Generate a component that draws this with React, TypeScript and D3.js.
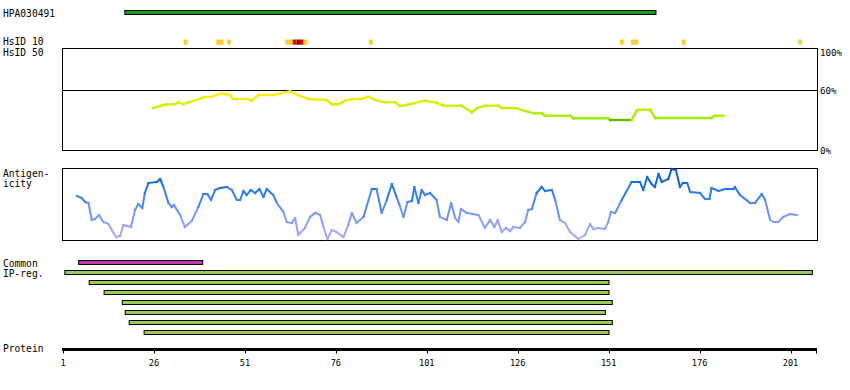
import React from "react";
import * as d3 from "d3";

const PROTEIN_LENGTH = 208;
const TICKS = [1, 26, 51, 76, 101, 126, 151, 176, 201];

const HPA_ANTIGEN = [18, 164];

// HsID 10 marks: [residue, level]
const HSID10 = [
  [34, 1], [43, 1], [44, 1], [46, 1], [62, 1], [63, 1], [64, 2], [65, 3], [66, 2], [67, 1],
  [85, 1], [154, 1], [157, 1], [158, 1], [171, 1], [203, 1],
];

// HsID 50 identity (%): residue, value
const ID_RES = [25.8, 27.7, 29.5, 31.8, 32.7, 34.1, 35.5, 37.8, 39.6, 41.9, 44.6, 46.9, 47.8, 51.9, 52.9, 54.7, 59.3, 60.7, 63.4, 65.7, 68.4, 73.5, 74.9, 76.7, 78.5, 80.8, 83.1, 84.9, 86.8, 89.5, 92.3, 93.6, 95.5, 97.3, 100.5, 103.7, 105.6, 110.6, 113.4, 114.7, 117.0, 120.7, 121.6, 125.7, 128.0, 130.3, 132.6, 133.5, 140.4, 141.3, 150.9, 151.4, 157.3, 158.7, 159.6, 162.4, 163.8, 179.3, 180.2, 182.5];
const ID_VAL = [42, 44, 45.7, 45.7, 47.7, 45.7, 47.7, 50, 52.7, 53.3, 56.7, 55, 51, 51, 49.3, 55, 55, 56.7, 58.7, 55, 51, 50, 45.7, 45.7, 49.3, 51, 51, 53.3, 50, 47.7, 47.7, 44, 45, 46.7, 49.3, 47.3, 44.3, 44.3, 37.7, 41.7, 44.3, 44.3, 42, 41.7, 39, 36.7, 36.7, 34.3, 34.3, 31.7, 31.7, 30, 30, 39.3, 40.3, 40.3, 32, 32, 34.3, 34.3];

// Antigenicity: residue, score
const AG_RES = [4.8, 6.1, 7.1, 8.0, 8.9, 9.8, 10.9, 12.1, 13.5, 14.4, 15.6, 16.7, 17.6, 19.7, 20.8, 21.7, 22.8, 23.5, 24.5, 26.8, 27.7, 28.6, 30.0, 30.9, 31.5, 33.2, 34.5, 36.4, 38.2, 39.6, 40.7, 41.7, 42.8, 44.2, 46.0, 47.4, 48.8, 49.7, 50.6, 51.5, 52.6, 53.8, 55.0, 56.1, 57.0, 58.8, 59.8, 61.6, 62.5, 63.9, 64.8, 65.7, 67.5, 68.9, 70.3, 71.7, 72.6, 73.7, 74.9, 76.2, 78.1, 79.4, 80.4, 81.7, 83.6, 85.9, 87.2, 88.6, 90.0, 91.4, 92.7, 93.6, 94.6, 95.7, 96.9, 97.6, 98.7, 99.6, 100.5, 101.9, 103.7, 104.6, 106.5, 107.7, 108.8, 109.7, 110.4, 112.0, 115.2, 117.0, 118.4, 119.6, 120.5, 121.6, 122.8, 123.9, 124.8, 126.6, 128.0, 128.9, 129.9, 131.2, 132.6, 133.5, 135.4, 136.3, 137.6, 139.0, 140.4, 142.7, 144.5, 145.9, 146.8, 148.2, 150.0, 150.9, 151.6, 152.8, 154.6, 157.3, 159.6, 160.5, 161.6, 162.8, 163.7, 164.7, 165.6, 167.4, 168.3, 169.5, 170.6, 171.4, 172.6, 173.4, 176.1, 177.5, 178.7, 179.3, 181.2, 183.0, 185.3, 185.7, 187.1, 189.9, 191.2, 193.1, 194.0, 195.4, 196.3, 197.6, 199.0, 200.9, 202.7];
const AG_VAL = [44, 42, 38, 37, 20, 21, 25, 18, 16, 10, 3, 4, 15, 13, 30, 36, 32, 47, 57, 58, 61, 53, 37, 33, 35, 25, 13, 19, 33, 46, 46, 40, 50, 52, 53, 50, 40, 40, 49, 45, 50, 47, 51, 43, 51, 45, 37, 28, 18, 17, 22, 5, 12, 23, 27, 25, 13, 1, 10, 8, 3, 15, 27, 17, 23, 51, 51, 27, 40, 56, 43, 34, 23, 38, 39, 53, 37, 50, 45, 47, 40, 23, 20, 37, 22, 18, 31, 27, 25, 12, 20, 13, 20, 8, 12, 9, 13, 12, 18, 30, 31, 47, 53, 49, 50, 40, 20, 17, 8, 1, 5, 16, 11, 12, 11, 18, 28, 27, 40, 58, 58, 50, 63, 56, 53, 66, 58, 61, 71, 70, 53, 57, 57, 48, 47, 41, 41, 52, 49, 51, 51, 53, 45, 37, 37, 46, 40, 20, 18, 18, 23, 26, 25];

const COMMON = [[5.3, 39.4]];
const IPREG_START = [1.5, 8.2, 12.3, 17.3, 18.1, 19.2, 23.3];
const IPREG_END = [207, 151.1, 151.1, 152, 150.1, 152, 151.1];

const FONT = "'DejaVu Sans Mono', monospace";

export default function App() {
  const W = 850, H = 390;
  const x = d3.scaleLinear().domain([1, PROTEIN_LENGTH]).range([63, 816]);
  const yId = d3.scaleLinear().domain([0, 100]).range([150, 50]);
  const yAg = d3.scaleLinear().domain([0, 72]).range([240, 168]);

  const idColor = (v: number) =>
    v <= 30.5 ? "#66bb00" : d3.scaleLinear<string>().domain([31, 44, 56]).range(["#99ee00", "#ccf000", "#ffee11"]).clamp(true)(v);
  const agColor = d3.scaleLinear<string>().domain([0, 25, 50, 70]).range(["#bbaaff", "#7799ff", "#2277ee", "#0052c4"]).clamp(true);
  const levelColor = ["", "#ffcc22", "#cc1100", "#990000"];

  const idSegs = ID_RES.slice(1).map((r, i) => ({
    x1: x(ID_RES[i]), y1: yId(ID_VAL[i]), x2: x(r), y2: yId(ID_VAL[i + 1]),
    c: idColor((ID_VAL[i] + ID_VAL[i + 1]) / 2),
  }));
  const agSegs = AG_RES.slice(1).map((r, i) => ({
    x1: x(AG_RES[i]), y1: yAg(AG_VAL[i]), x2: x(r), y2: yAg(AG_VAL[i + 1]),
    c: agColor((AG_VAL[i] + AG_VAL[i + 1]) / 2),
  }));

  const label = (t: string, yy: number, xx = 3, size = 9.6) => (
    <text x={xx} y={yy} fontFamily={FONT} fontSize={size} fill="#000">{t}</text>
  );

  return (
    <svg width={W} height={H} style={{ position: "absolute", left: 0, top: 0, background: "#fff" }}>
      <rect width={W} height={H} fill="#fff" />
      {label("HPA030491", 16.5)}
      <rect x={x(HPA_ANTIGEN[0])} y={10.5} width={x(HPA_ANTIGEN[1]) - x(HPA_ANTIGEN[0])} height={4} fill="#1c9c1c" stroke="#000" strokeWidth={1} />

      {label("HsID 10", 45)}
      {label("HsID 50", 56)}
      {HSID10.map(([r, l], i) => (
        <rect key={i} x={x(r) + 0.5} y={39.5} width={x(r + 1) - x(r)} height={5.2} fill={levelColor[l]} />
      ))}

      <rect x={62.5} y={48.5} width={755} height={102} fill="none" stroke="#000" strokeWidth={1} />
      <line x1={62.5} x2={817.5} y1={90.5} y2={90.5} stroke="#000" strokeWidth={1} />
      {label("100%", 55.5, 820, 9.2)}
      {label("60%", 94, 820, 9.2)}
      {label("0%", 154, 820, 9.2)}
      {idSegs.map((s, i) => (
        <line key={i} x1={s.x1} y1={s.y1} x2={s.x2} y2={s.y2} stroke={s.c} strokeWidth={2.4} strokeLinecap="square" />
      ))}

      {label("Antigen-", 176.5)}
      {label("icity", 187)}
      <rect x={62.5} y={168.5} width={755} height={72} fill="none" stroke="#000" strokeWidth={1} />
      {agSegs.map((s, i) => (
        <line key={i} x1={s.x1} y1={s.y1} x2={s.x2} y2={s.y2} stroke={s.c} strokeWidth={2} strokeLinecap="square" />
      ))}

      {label("Common", 266.5)}
      {label("IP-reg.", 277)}
      {COMMON.map(([a, b], i) => (
        <rect key={i} x={x(a)} y={260.5} width={x(b) - x(a)} height={4} fill="#cc33aa" stroke="#000" strokeWidth={1} />
      ))}
      {IPREG_START.map((a, i) => (
        <rect key={i} x={x(a)} y={270.5 + i * 10} width={x(IPREG_END[i]) - x(a)} height={4} fill="#9dc85a" stroke="#000" strokeWidth={1} />
      ))}

      {label("Protein", 352)}
      <rect x={62} y={348} width={x(PROTEIN_LENGTH) - 62 + 1} height={3} fill="#000" />
      {[...TICKS, PROTEIN_LENGTH].map((t, i) => (
        <line key={i} x1={Math.round(x(t)) + 0.5} x2={Math.round(x(t)) + 0.5} y1={350} y2={353.5} stroke="#000" strokeWidth={1} />
      ))}
      {TICKS.map((t, i) => (
        <text key={i} x={x(t)} y={365.5} textAnchor="middle" fontFamily={FONT} fontSize={8.6} fill="#000">{t}</text>
      ))}
    </svg>
  );
}
